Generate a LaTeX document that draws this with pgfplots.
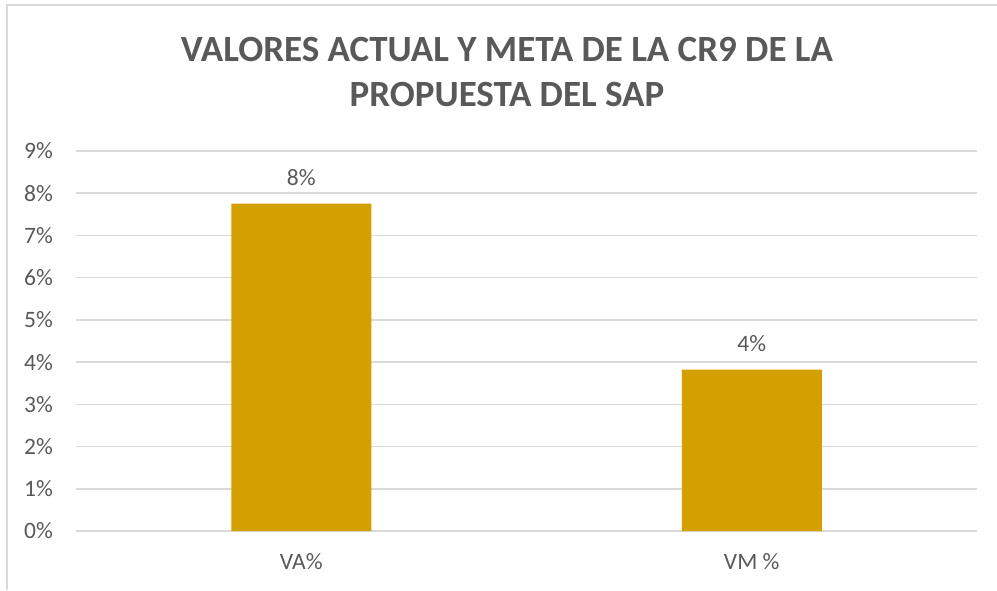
\documentclass[border=0pt]{standalone}
\usepackage{fontspec}
\setmainfont{Carlito}
\usepackage{pgfplots}
\pgfplotsset{compat=1.18}
\definecolor{txt}{HTML}{595959}
\definecolor{gridc}{HTML}{D9D9D9}
\definecolor{barc}{RGB}{212,160,0}
\begin{document}
\begin{tikzpicture}
\path[use as bounding box] (0pt,0pt) rectangle (997pt,590pt);
\draw[gridc,line width=2pt] (7pt,0pt) -- (7pt,585pt) -- (997pt,585pt);
\node[txt,font=\fontsize{37}{45}\selectfont\bfseries,anchor=base] at (507pt,528pt) {VALORES ACTUAL Y META DE LA CR9 DE LA};
\node[txt,font=\fontsize{37}{45}\selectfont\bfseries,anchor=base] at (507pt,483pt) {PROPUESTA DEL SAP};
\begin{axis}[
  at={(76pt,59pt)}, anchor=south west,
  scale only axis, width=901pt, height=380pt,
  xmin=-0.5, xmax=1.5, ymin=0, ymax=9,
  ytick={0,1,...,9}, xtick={0,1},
  xticklabels={VA\%, VM \%},
  yticklabel={\pgfmathprintnumber{\tick}\%},
  /pgf/number format/assume math mode=true,
  ymajorgrids, grid style={gridc, line width=1.5pt},
  axis line style={draw=none},
  major tick length=0pt,
  tick label style={txt, font=\fontsize{23.5}{28}\selectfont},
  yticklabel style={anchor=east, inner sep=0pt, xshift=-23pt},
  xticklabel style={anchor=north, inner sep=0pt, yshift=-22pt},
  ybar, bar width=140pt,
  nodes near coords={\pgfmathprintnumber[fixed,precision=0]{\pgfplotspointmeta}\%},
  nodes near coords style={txt, font=\fontsize{23.5}{28}\selectfont, anchor=south, inner sep=0pt, yshift=18pt},
  clip=false,
]
\addplot[draw=none, fill=barc] coordinates {(0,7.755) (1,3.82)};
\end{axis}
\end{tikzpicture}
\end{document}
